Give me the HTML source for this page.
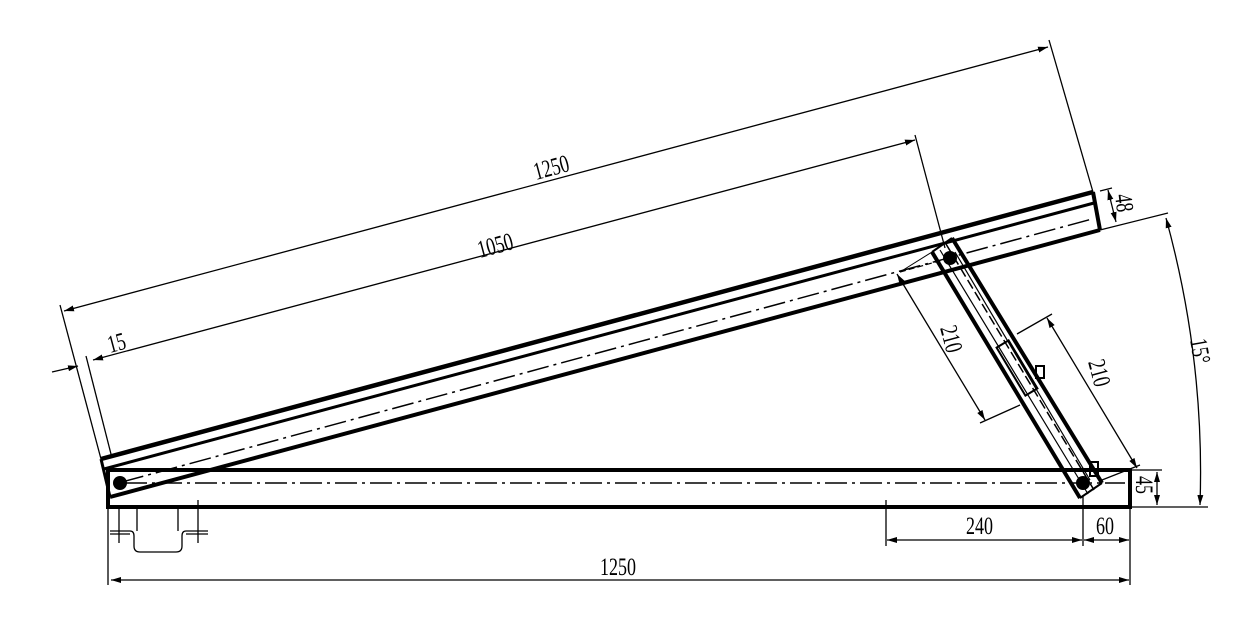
<!DOCTYPE html>
<html><head><meta charset="utf-8"><style>
html,body{margin:0;padding:0;background:#fff;width:1256px;height:628px;overflow:hidden}
text{font-family:"Liberation Serif","DejaVu Serif",serif;font-size:25px;fill:#000}
</style></head><body>
<svg width="1256" height="628" viewBox="0 0 1256 628" xmlns="http://www.w3.org/2000/svg">
<defs>
<marker id="a" viewBox="0 0 10 6" refX="10" refY="3" markerWidth="10" markerHeight="6" orient="auto-start-reverse" markerUnits="userSpaceOnUse"><path d="M0,0 L10,3 L0,6z" fill="#000"/></marker>
</defs>
<g stroke="#000" fill="none">
<!-- base rail -->
<rect x="108" y="470" width="1022" height="37" stroke-width="4"/>
<line x1="125" y1="483" x2="1125" y2="483" stroke-width="1.5" stroke-dasharray="22,5,3,5"/>
<!-- top rail -->
<line x1="101" y1="459" x2="1093" y2="192" stroke-width="4.5"/>
<line x1="104" y1="469" x2="1094" y2="203" stroke-width="3"/>
<line x1="110" y1="497" x2="1100" y2="230" stroke-width="4"/>
<line x1="101" y1="459" x2="110" y2="497" stroke-width="3"/>
<line x1="1093" y1="192" x2="1100" y2="230" stroke-width="4"/>
<line x1="122" y1="482" x2="1092" y2="219" stroke-width="1.5" stroke-dasharray="22,5,3,5"/>
<!-- strut -->
<line x1="932" y1="252" x2="1080" y2="498" stroke-width="4"/>
<line x1="952" y1="238" x2="1102" y2="483" stroke-width="4"/>
<line x1="932" y1="252" x2="952" y2="238" stroke-width="2"/>
<line x1="1080" y1="498" x2="1102" y2="483" stroke-width="2"/>
<line x1="940" y1="250" x2="1088" y2="494" stroke-width="1.2"/>
<line x1="946" y1="244" x2="1094" y2="490" stroke-width="1.5" stroke-dasharray="10,4"/>
<line x1="955" y1="252" x2="1090" y2="480" stroke-width="1.2"/>
<rect x="1010" y="340" width="14" height="56" transform="rotate(-31 1017 368)" stroke-width="2"/>
<rect x="1036" y="366" width="8" height="12" stroke-width="2"/>
<rect x="1090" y="462" width="8" height="14" stroke-width="2"/>
<line x1="900" y1="272" x2="932" y2="252" stroke-width="1"/>
<line x1="900" y1="272" x2="950" y2="258" stroke-width="1.2" stroke-dasharray="6,3"/>
</g>
<circle cx="120" cy="483" r="7"/>
<circle cx="950" cy="258" r="7"/>
<circle cx="1083" cy="483" r="7"/>
<g stroke="#000" fill="none" stroke-width="1.3">
<!-- bracket -->
<path d="M108,507 V585"/>
<path d="M110,531 H130 Q134,531 134,536 V546 Q134,552 140,552 H176 Q182,552 182,546 V536 Q182,531 186,531 H208 M110,534 H130 M186,534 H208 M137,507 V531 M178,507 V531"/>
<line x1="119" y1="507" x2="119" y2="543"/>
<line x1="198" y1="500" x2="198" y2="543"/>
<!-- 1250 top -->
<line x1="60" y1="305" x2="101" y2="459"/>
<line x1="1049" y1="40" x2="1093" y2="192"/>
<line x1="64" y1="311" x2="1048" y2="47" marker-start="url(#a)" marker-end="url(#a)"/>
<!-- 1050 -->
<line x1="86" y1="356" x2="112" y2="458"/>
<line x1="915" y1="135" x2="945" y2="248"/>
<line x1="93" y1="360" x2="915" y2="140" marker-start="url(#a)" marker-end="url(#a)"/>
<line x1="52" y1="372" x2="78" y2="366" marker-end="url(#a)"/>
<!-- 210 dims -->
<line x1="897" y1="274" x2="985" y2="420" marker-start="url(#a)" marker-end="url(#a)"/>
<line x1="980" y1="423" x2="1020" y2="405"/>
<line x1="1047" y1="318" x2="1137" y2="468" marker-start="url(#a)" marker-end="url(#a)"/>
<line x1="1017" y1="334" x2="1052" y2="314"/>
<line x1="1102" y1="480" x2="1140" y2="465"/>
<!-- 48 -->
<line x1="1100" y1="191" x2="1112" y2="188"/>
<line x1="1100" y1="230" x2="1168" y2="213"/>
<line x1="1108" y1="190" x2="1116" y2="222" marker-start="url(#a)" marker-end="url(#a)"/>
<!-- 15 deg -->
<path d="M1166,218 Q1205,360 1200,505" marker-start="url(#a)" marker-end="url(#a)"/>
<line x1="1130" y1="507" x2="1208" y2="507"/>
<!-- 45 -->
<line x1="1130" y1="470" x2="1162" y2="470"/>
<line x1="1157" y1="472" x2="1157" y2="505" marker-start="url(#a)" marker-end="url(#a)"/>
<!-- 240/60 -->
<line x1="886" y1="500" x2="886" y2="546"/>
<line x1="1083" y1="495" x2="1083" y2="546"/>
<line x1="1130" y1="507" x2="1130" y2="585"/>
<line x1="887" y1="540" x2="1082" y2="540" marker-start="url(#a)" marker-end="url(#a)"/>
<line x1="1084" y1="540" x2="1129" y2="540" marker-start="url(#a)" marker-end="url(#a)"/>
<!-- 1250 bottom -->
<line x1="111" y1="580" x2="1129" y2="580" marker-start="url(#a)" marker-end="url(#a)"/>
</g>
<text transform="translate(536,180) rotate(-15) scale(0.72,1)">1250</text>
<text transform="translate(480,258) rotate(-15) scale(0.72,1)">1050</text>
<text transform="translate(110,353) rotate(-15) scale(0.72,1)">15</text>
<text transform="translate(940,328) rotate(75) scale(0.72,1)">210</text>
<text transform="translate(1088,362) rotate(75) scale(0.72,1)">210</text>
<text transform="translate(1115,195) rotate(83) scale(0.72,1)">48</text>
<text transform="translate(1190,340) rotate(80) scale(0.72,1)">15°</text>
<text transform="translate(1136,476) rotate(90) scale(0.72,1)">45</text>
<text transform="translate(966,534) scale(0.72,1)">240</text>
<text transform="translate(1096,534) scale(0.72,1)">60</text>
<text transform="translate(600,575) scale(0.72,1)">1250</text>
</svg>
</body></html>
